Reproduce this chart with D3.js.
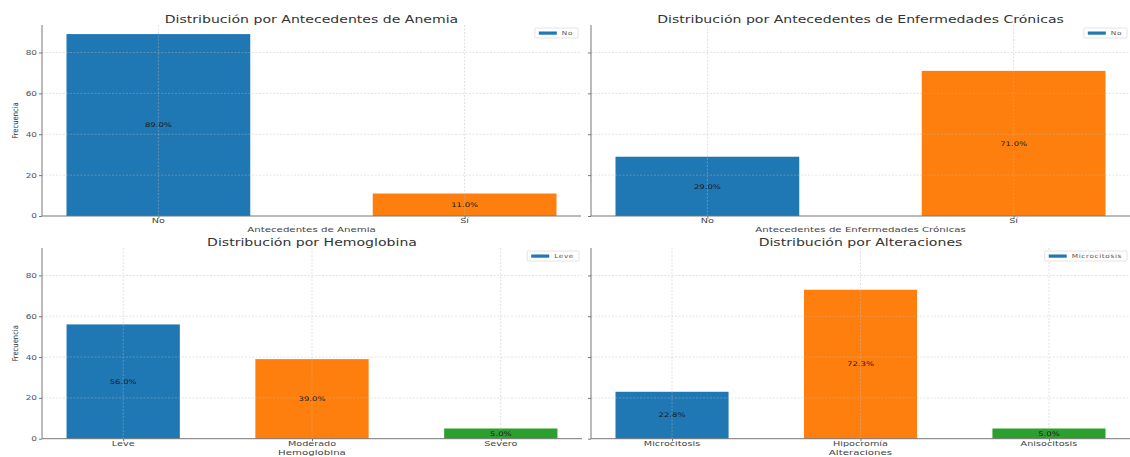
<!DOCTYPE html>
<html>
<head>
<meta charset="utf-8">
<script src="https://cdn.jsdelivr.net/npm/d3@7"></script>
<style>
  html, body { margin: 0; padding: 0; background: #fff; }
  svg { display: block; font-family: "DejaVu Sans", sans-serif; }
</style>
</head>
<body>
<svg id="chart" width="1130" height="457"></svg>
<script>
// Categories and counts per panel
const anemiaCats = ["No", "Sí"];
const anemiaCounts = [89, 11];

const cronicasCats = ["No", "Sí"];
const cronicasCounts = [29, 71];

const hemoCats = ["Leve", "Moderado", "Severo"];
const hemoCounts = [56, 39, 5];

const altCats = ["Microcitosis", "Hipocromía", "Anisocitosis"];
const altCounts = [23, 73, 5];

const yTicks = [0, 20, 40, 60, 80];
const palette = ["#1f77b4", "#ff7f0e", "#2ca02c"];

const panels = [
  { title: "Distribución por Antecedentes de Anemia", xlabel: "Antecedentes de Anemia",
    cats: anemiaCats, counts: anemiaCounts, box: [42, 581, 25, 216], yLabels: true },
  { title: "Distribución por Antecedentes de Enfermedades Crónicas", xlabel: "Antecedentes de Enfermedades Crónicas",
    cats: cronicasCats, counts: cronicasCounts, box: [591, 1130, 25, 216], yLabels: false },
  { title: "Distribución por Hemoglobina", xlabel: "Hemoglobina",
    cats: hemoCats, counts: hemoCounts, box: [42, 582, 248, 438.7], yLabels: true },
  { title: "Distribución por Alteraciones", xlabel: "Alteraciones",
    cats: altCats, counts: altCounts, box: [591, 1130, 248, 438.7], yLabels: false }
];

const svg = d3.select("#chart");
const yMax = 93.45;
const SX = 1.36; // horizontal widening applied to all text

// text helper: positioned via transform so it can be widened horizontally
function label(parent, x, y, str, o = {}) {
  const t = parent.append("text")
    .attr("transform", `translate(${x},${y}) scale(${o.sx || SX},1)` + (o.rotate ? ` rotate(${o.rotate})` : ""))
    .attr("text-anchor", o.anchor || "middle")
    .attr("font-size", o.size || 7)
    .attr("fill", o.fill || "#444")
    .text(str);
  if (o.dy) t.attr("dy", o.dy);
  if (o.ls) t.attr("letter-spacing", o.ls);
  return t;
}

panels.forEach(p => {
  const [x0, x1, y0, y1] = p.box;
  const n = p.cats.length;
  const pad = 0.3 + (n - 1 + 0.6) * 0.05;
  const x = d3.scaleLinear().domain([-pad, n - 1 + pad]).range([x0, x1]);
  const y = d3.scaleLinear().domain([0, yMax]).range([y1, y0]);
  const barW = x(0.6) - x(0);
  const total = d3.sum(p.counts);
  const g = svg.append("g");

  // bars
  g.selectAll("rect.bar").data(p.counts).join("rect")
    .attr("class", "bar")
    .attr("x", (d, i) => x(i) - barW / 2)
    .attr("width", barW)
    .attr("y", d => y(d))
    .attr("height", d => y(0) - y(d))
    .attr("fill", (d, i) => palette[i]);

  // grid, drawn faintly over the bars
  g.selectAll("line.hg").data(yTicks.slice(1)).join("line")
    .attr("x1", x0).attr("x2", x1)
    .attr("y1", d => y(d)).attr("y2", d => y(d))
    .attr("stroke", "#bbb").attr("stroke-opacity", 0.5)
    .attr("stroke-width", 0.8).attr("stroke-dasharray", "2,1.5");
  g.selectAll("line.vg").data(d3.range(n)).join("line")
    .attr("x1", d => x(d)).attr("x2", d => x(d))
    .attr("y1", y0).attr("y2", y1)
    .attr("stroke", "#bbb").attr("stroke-opacity", 0.55)
    .attr("stroke-width", 0.8).attr("stroke-dasharray", "2,1.5");

  // value labels (share of total)
  p.counts.forEach((d, i) => {
    label(g, x(i), y(d / 2), (d / total * 100).toFixed(1) + "%",
      { size: 6.3, fill: "#1a1a1a", dy: "0.35em", sx: 1.35 });
  });

  // axes
  const yAxis = d3.axisLeft(y).tickValues(yTicks).tickSize(3).tickFormat(() => "");
  const ya = g.append("g").attr("transform", `translate(${x0},0)`).call(yAxis);
  ya.select(".domain").attr("d", `M0,${y0}V${y1}`).attr("stroke", "#777");
  ya.selectAll(".tick line").attr("stroke", "#777");
  if (p.yLabels) {
    yTicks.forEach(v => label(g, x0 - 5, y(v), d3.format("d")(v),
      { size: 7, anchor: "end", dy: "0.35em", sx: 1.28, fill: "#555" }));
  }

  const xAxis = d3.axisBottom(x).tickValues(d3.range(n)).tickSize(2.5).tickFormat(() => "");
  const xa = g.append("g").attr("transform", `translate(0,${y1})`).call(xAxis);
  xa.select(".domain").attr("d", `M${x0},0H${x1}`).attr("stroke", "#777");
  xa.selectAll(".tick line").attr("stroke", "#777");
  p.cats.forEach((c, i) => label(g, x(i), y1 + 7.3, c, { size: 7, sx: 1.38 }));

  // axis titles
  label(g, (x0 + x1) / 2, y1 + (n === 2 ? 15.8 : 16), p.xlabel, { size: 7.2, sx: 1.42 });
  if (p.yLabels) {
    label(g, 18, (y0 + y1) / 2, "Frecuencia", { size: 6.8, sx: 1.15, rotate: -90, fill: "#333" });
  }

  // panel title
  label(g, (x0 + x1) / 2, y0 - 1.8, p.title, { size: 10.5, sx: 1.34, fill: "#333" });

  // legend (first category only)
  const lg = g.append("g");
  const lt = label(lg, 0, 0, p.cats[0], { size: 5.6, anchor: "start", fill: "#555", ls: 0.5, sx: 1.3 });
  const tw = lt.node().getComputedTextLength() * 1.3;
  const boxW = tw + 32;
  const bx = x1 - 3 - boxW;
  lg.insert("rect", "text")
    .attr("x", bx).attr("y", y0 + 3).attr("width", boxW).attr("height", 10)
    .attr("fill", "#fff").attr("stroke", "#ddd").attr("stroke-width", 0.8).attr("rx", 1);
  lg.append("rect")
    .attr("x", bx + 4).attr("y", y0 + 6.5).attr("width", 18).attr("height", 3.2)
    .attr("fill", palette[0]);
  lt.attr("transform", `translate(${bx + 27},${y0 + 10}) scale(1.3,1)`);
});
</script>
</body>
</html>
